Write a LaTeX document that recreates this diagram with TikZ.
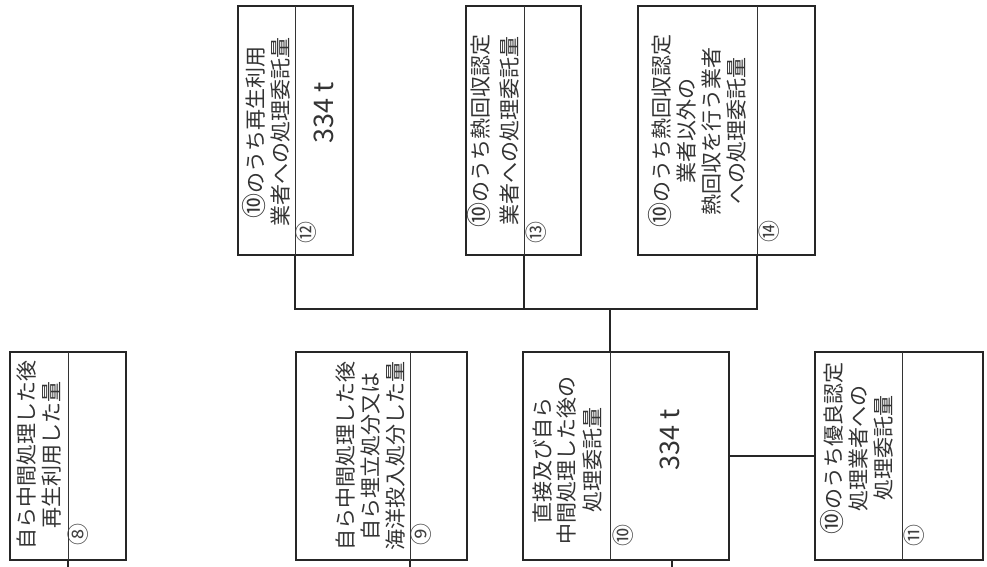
\documentclass[tikz,border=0pt]{standalone}
\usepackage{fontspec}
\setmainfont{Noto Sans CJK JP}
\usetikzlibrary{positioning}

% circled ten inside the texts, a little larger
\newcommand{\maru}{{\fontsize{25}{25}\selectfont ⑩}}

\tikzset{
  box/.style={rectangle, draw=black!85, line width=1.6pt, inner sep=0pt, outer sep=0pt},
  sep/.style={draw=black!80, line width=0.8pt},
  link/.style={draw=black!85, line width=1.6pt},
  txt/.style={rotate=90, align=center, inner sep=0pt, text=black!80,
    font=\fontsize{21}{25}\selectfont},
  num/.style={rotate=90, inner sep=0pt, text=black!75, font=\fontsize{22}{22}\selectfont},
  qty/.style={rotate=90, inner sep=0pt, text=black!80, font=\fontsize{27}{27}\selectfont}
}

\begin{document}
\begin{tikzpicture}[x=1pt,y=-1pt]
\useasboundingbox (0,0) rectangle (987,567);

% lower row
\node[box, minimum width=116pt, minimum height=208pt] (b8) at (68,456) {};
\node[box, minimum width=171pt, minimum height=208pt] (b9) at (381.5,456) {};
\node[box, minimum width=206pt, minimum height=208pt] (b10) at (626,456) {};
\node[box, minimum width=168pt, minimum height=208pt] (b11) at (899,456) {};

% upper row
\node[box, minimum width=115pt, minimum height=249pt] (b12) at (295.5,130.5) {};
\node[box, minimum width=115pt, minimum height=249pt] (b13) at (523.5,130.5) {};
\node[box, minimum width=177pt, minimum height=249pt] (b14) at (726.5,130.5) {};

% dividers
\coordinate (b8t) at (68,352);   \coordinate (b8b) at (68,560);
\coordinate (b9t) at (410,352);  \coordinate (b9b) at (410,560);
\coordinate (b10t) at (610,352); \coordinate (b10b) at (610,560);
\coordinate (b11t) at (902,352); \coordinate (b11b) at (902,560);
\coordinate (b12t) at (295,6);   \coordinate (b12b) at (295,255);
\coordinate (b13t) at (524,6);   \coordinate (b13b) at (524,255);
\coordinate (b14t) at (757,6);   \coordinate (b14b) at (757,255);
\foreach \b in {b8,b9,b10,b11,b12,b13,b14}
  \draw[sep] (\b t) -- (\b b);

% texts
\node[txt] (t8) at (39,455) {自ら中間処理した後\\再生利用した量};
\node[txt] (t9) at (371,456) {自ら中間処理した後\\自ら埋立処分又は\\海洋投入処分した量};
\node[txt] (t10) at (567,460) {直接及び自ら\\中間処理した後の\\処理委託量};
\node[txt] (t11) at (857,448) {\maru のうち優良認定\\処理業者への\\処理委託量};
\node[txt] (t12) at (266,132) {\maru のうち再生利用\\業者への処理委託量};
\node[txt, font=\fontsize{21}{29}\selectfont] (t13) at (493,131) {\maru のうち熱回収認定\\業者への処理委託量};
\node[txt] (t14) at (697,131) {\maru のうち熱回収認定\\業者以外の\\熱回収を行う業者\\への処理委託量};

% circled numbers
\node[num] (n8) at (78,534) {⑧};
\node[num] (n9) at (421,534) {⑨};
\node[num] (n10) at (623,535) {⑩};
\node[num] (n11) at (914,535) {⑪};
\node[num] (n12) at (306,232) {⑫};
\node[num] (n13) at (536,232) {⑬};
\node[num] (n14) at (769,231) {⑭};

% amounts
\node[qty] (q12) at (324,113) {334 t};
\node[qty] (q10) at (670,440) {334 t};

% connectors
\coordinate (j) at (610,309);
\draw[link] (b12b) |- (j) -| (b14b);
\draw[link] (b13b) -- (b13b |- j);
\draw[link] (j) -- (b10t);
\draw[link] (b10.east) -- (b11.west);

% lines running off the sheet
\coordinate (o8) at (68,567);
\coordinate (o9) at (410,567);
\coordinate (o10) at (672,567);
\draw[link] (b8b) -- (o8);
\draw[link] (b9b) -- (o9);
\draw[link] (o10 |- b10.south) -- (o10);
\end{tikzpicture}
\end{document}
